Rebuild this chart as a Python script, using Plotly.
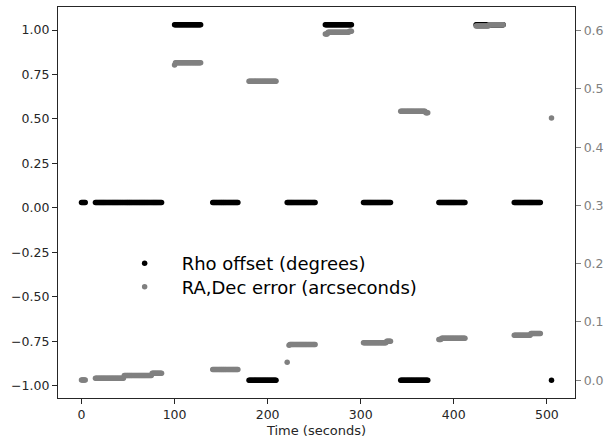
import plotly.graph_objects as go

# Rho offset segments (time start, time end [s], level in degrees), sampled every second
rho_start = [0, 15, 100, 141, 180, 221, 262, 303, 343, 384, 424, 465, 505]
rho_end   = [4, 86, 128, 168, 209, 251, 290, 332, 372, 412, 453, 493, 505]
rho_level = [0.03, 0.03, 1.03, 0.03, -0.97, 0.03, 1.03, 0.03, -0.97, 0.03, 1.03, 0.03, -0.97]

# RA,Dec error segments (time start, time end [s], level in arcseconds)
err_start = [0, 15, 46, 76, 100, 101, 141, 180, 221, 223, 224, 262, 265, 288, 303, 328,
             343, 370, 384, 387, 424, 438, 465, 483, 505]
err_end   = [4, 45, 75, 86, 100, 128, 168, 209, 221, 223, 251, 264, 287, 290, 327, 332,
             369, 372, 386, 412, 437, 453, 482, 493, 505]
err_level = [0.0005, 0.0035, 0.008, 0.0118, 0.541, 0.545, 0.0183, 0.513, 0.031, 0.060, 0.0615,
             0.594, 0.597, 0.599, 0.0645, 0.067, 0.4615, 0.459, 0.070, 0.072, 0.608, 0.610,
             0.077, 0.080, 0.45]


def expand(starts, ends, levels):
    t, v = [], []
    for s, e, lv in zip(starts, ends, levels):
        for ti in range(s, e + 1):
            t.append(ti)
            v.append(lv)
    return t, v


rho_t, rho_v = expand(rho_start, rho_end, rho_level)
err_t, err_v = expand(err_start, err_end, err_level)

FONT = "DejaVu Sans"
DARK = "#262626"
GRAY = "#808080"

fig = go.Figure()
fig.add_trace(go.Scatter(x=rho_t, y=rho_v, mode="markers", name="Rho offset (degrees)",
                         marker=dict(color="black", size=5.5, line=dict(width=0)),
                         yaxis="y", legend="legend"))
fig.add_trace(go.Scatter(x=err_t, y=err_v, mode="markers", name="RA,Dec error (arcseconds)",
                         marker=dict(color=GRAY, size=5.5, line=dict(width=0)),
                         yaxis="y2", legend="legend2"))

axis_common = dict(showgrid=False, zeroline=False, showline=True, linecolor=DARK, linewidth=1.25,
                   ticks="outside", ticklen=5, tickwidth=1.25, automargin=False)

legend_common = dict(xanchor="left", yanchor="top", bgcolor="rgba(0,0,0,0)", borderwidth=0,
                     itemwidth=64, font=dict(family=FONT, size=18, color="black"))

fig.update_layout(
    width=605, height=438,
    margin=dict(l=58, r=30, t=7, b=40),
    paper_bgcolor="white", plot_bgcolor="white",
    font=dict(family=FONT, size=12.5, color=DARK),
    xaxis=dict(range=[-25.25, 530.25], dtick=100, tick0=0, mirror=True,
               title=dict(text="Time (seconds)", font=dict(size=13, color=DARK), standoff=4),
               tickcolor=DARK, tickfont=dict(size=12.5, color=DARK), **axis_common),
    yaxis=dict(range=[-1.07, 1.13], dtick=0.25, tick0=0, tickformat=".2f",
               tickcolor=DARK, tickfont=dict(size=12.5, color=DARK), **axis_common),
    yaxis2=dict(range=[-0.0305, 0.6405], dtick=0.1, tick0=0, tickformat=".1f",
                overlaying="y", side="right", anchor="x",
                tickcolor=GRAY, tickfont=dict(size=12.5, color=GRAY), **axis_common),
    showlegend=True,
    legend=dict(x=0.096, y=0.391, **legend_common),
    legend2=dict(x=0.096, y=0.331, **legend_common),
)

fig.write_html("out.html", config={"displayModeBar": False},
               post_script="document.body.style.margin='0';")
